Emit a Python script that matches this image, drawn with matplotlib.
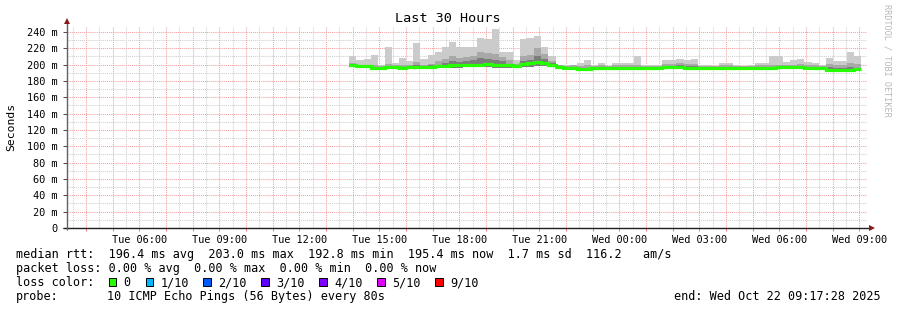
import matplotlib
matplotlib.use("Agg")
import numpy as np
import pandas as pd
import matplotlib.pyplot as plt
from matplotlib.patches import Rectangle
from matplotlib.ticker import FixedLocator, MultipleLocator, FuncFormatter

plt.rcParams['font.family'] = ['DejaVu Sans Mono']

# ---------------- data ----------------
title = "Last 30 Hours"
y_label = "Seconds"
range_start = "2025-10-21 03:17:28"
range_end = "2025-10-22 09:17:28"
first_bin = "2025-10-21 13:52:40"
bin_minutes = 16

# smoke top (max of 10 pings), ms
smoke_max = [210, 206, 207, 212, 200, 221, 202, 208, 204, 226,
             207, 212, 215, 221, 228, 221, 221, 222, 232, 231,
             244, 216, 216, 206, 231, 232, 235, 221, 211, 200,
             200, 200, 202, 206, 200, 202, 198, 202, 202, 202,
             211, 199, 199, 199, 206, 206, 207, 206, 207, 200,
             200, 198, 202, 202, 200, 198, 200, 202, 202, 210,
             210, 203, 206, 207, 203, 202, 199, 208, 205, 205,
             215, 211]
smoke_p90 = [202, 200, 200, 199, 198, 201, 199, 200, 199, 203,
             200, 201, 204, 207, 210, 208, 209, 211, 215, 214,
             213, 209, 206, 201, 210, 212, 220, 213, 205, 199,
             198, 199, 198, 199, 198, 199, 198, 199, 199, 199,
             200, 198, 198, 198, 201, 201, 202, 201, 201, 198,
             198, 198, 199, 199, 198, 198, 198, 199, 199, 200,
             200, 199, 200, 201, 200, 199, 198, 201, 200, 200,
             202, 201]
smoke_p75 = [200, 199, 199, 197, 197, 198, 198, 197, 198, 199,
             198, 199, 200, 202, 204, 203, 204, 206, 208, 207,
             206, 204, 201, 199, 204, 206, 210, 207, 202, 198,
             197, 197, 196, 196, 197, 197, 197, 197, 197, 197,
             197, 197, 197, 197, 198, 198, 199, 198, 198, 197,
             197, 197, 197, 197, 197, 197, 197, 197, 197, 197,
             198, 198, 198, 198, 197, 197, 197, 197, 196, 196,
             197, 196]
median = [199, 198, 198, 196, 196, 197, 197, 196, 197, 197,
          197, 197, 198, 198, 199, 199, 199, 200, 200, 201,
          200, 200, 199, 198, 201, 202, 203, 202, 200, 197,
          196, 196, 195, 195, 196, 196, 196, 196, 196, 196,
          196, 196, 196, 196, 197, 197, 197, 196, 196, 196,
          196, 196, 196, 196, 196, 196, 196, 196, 196, 196,
          197, 197, 197, 197, 196, 196, 196, 194, 194, 194,
          194, 195]
smoke_min = [197, 196, 196, 194, 194, 195, 195, 194, 195, 195,
             195, 195, 196, 196, 196, 196, 197, 197, 197, 197,
             196, 196, 196, 196, 197, 197, 198, 198, 197, 195,
             195, 194, 193, 193, 194, 195, 195, 195, 195, 195,
             195, 195, 195, 195, 195, 195, 195, 195, 195, 195,
             195, 195, 194, 195, 195, 195, 195, 195, 195, 195,
             195, 195, 195, 195, 195, 195, 195, 192, 192, 192,
             192, 193]

legend_lines = [
    "median rtt:  196.4 ms avg  203.0 ms max  192.8 ms min  195.4 ms now  1.7 ms sd  116.2   am/s",
    "packet loss: 0.00 % avg  0.00 % max  0.00 % min  0.00 % now",
]
loss_labels = ["0", "1/10", "2/10", "3/10", "4/10", "5/10", "9/10"]
loss_colors = ["#26ff00", "#00b8ff", "#0059ff", "#5e00ff", "#7e00ff", "#dd00ff", "#ff0000"]
probe_text = "10 ICMP Echo Pings (56 Bytes) every 80s"
end_text = "end: Wed Oct 22 09:17:28 2025"
watermark = "RRDTOOL / TOBI OETIKER"

# ---------------- figure ----------------
W, H = 897, 310
fig = plt.figure(figsize=(W / 100, H / 100), dpi=100)
fig.patch.set_facecolor("white")


def fx(p):
    return p / W


def fy(p):
    return 1 - p / H


ax = fig.add_axes([fx(67), fy(228), 800 / W, 202 / H])
ax.set_facecolor("white")

begin = pd.Timestamp(range_start)
end = pd.Timestamp(range_end)
hour = pd.Timedelta(hours=1)
bins = pd.date_range(first_bin, periods=len(median), freq=f"{bin_minutes}min")
edges = np.append((bins - begin) / hour,
                  (bins[-1] + pd.Timedelta(minutes=bin_minutes) - begin) / hour)

y_top = 247.3
ax.set_xlim(0, (end - begin) / hour)
ax.set_ylim(0, y_top)

ax.stairs(smoke_max, edges, baseline=smoke_min, fill=True, color="#cbcbcb", lw=0, zorder=3)
ax.stairs(smoke_p90, edges, baseline=smoke_min, fill=True, color="#a8a8a8", lw=0, zorder=4)
ax.stairs(smoke_p75, edges, baseline=smoke_min, fill=True, color="#7c7c7c", lw=0, zorder=5)
ax.stairs(median, edges, baseline=None, color=loss_colors[0], lw=2.3, zorder=6)

# grid / ticks
hour_marks = pd.date_range(begin.ceil("h"), end, freq="1h")
half_marks = pd.date_range(begin.ceil("30min"), end, freq="30min")
half_marks = [t for t in half_marks if t.minute == 30]
major_x = [(t - begin) / hour for t in hour_marks]
minor_x = [(t - begin) / hour for t in half_marks]
ax.xaxis.set_major_locator(FixedLocator(major_x))
ax.xaxis.set_minor_locator(FixedLocator(minor_x))
labels = [t.strftime("%a %H:%M") if t.hour % 3 == 0 else "" for t in hour_marks]
ax.set_xticklabels(labels)

ax.yaxis.set_major_locator(MultipleLocator(20))
ax.yaxis.set_minor_locator(MultipleLocator(10))
ax.yaxis.set_major_formatter(FuncFormatter(lambda v, p: "0" if v == 0 else f"{int(round(v))} m"))

ax.grid(which="minor", color="#cfcfcf", linestyle=(0, (1, 1)), linewidth=0.75, zorder=1)
ax.grid(which="major", color="#f4a0a0", linestyle=(0, (1, 1)), linewidth=0.75, zorder=2)
ax.set_axisbelow(True)

for s in ax.spines.values():
    s.set_visible(False)

ax.tick_params(axis="x", which="major", length=2.2, width=0.75, color="#f08080",
               labelsize=7.4, pad=2.5, labelcolor="#000000")
ax.tick_params(axis="x", which="minor", length=0)
ax.tick_params(axis="y", which="major", length=3, width=0.75, color="#505050",
               labelsize=7.4, pad=3.5, labelcolor="#000000")
ax.tick_params(axis="y", which="minor", length=0)

# axis lines and arrows
ax.plot([-4 / 800, 1 + 4 / 800], [0, 0], transform=ax.transAxes, color="#202020",
        lw=1.0, clip_on=False, zorder=8, solid_capstyle="butt")
ax.plot([0, 0], [-2 / 202, 1 + 3 / 202], transform=ax.transAxes, color="#606060",
        lw=1.0, clip_on=False, zorder=8, solid_capstyle="butt")
ax.plot([1 + 5 / 800], [0], transform=ax.transAxes, marker=">", markersize=4,
        color="#8b1a1a", clip_on=False, zorder=9, markeredgewidth=0)
ax.plot([0], [1 + 5 / 202], transform=ax.transAxes, marker="^", markersize=4,
        color="#8b1a1a", clip_on=False, zorder=9, markeredgewidth=0)

# titles
fig.text(fx(448), fy(19), title, ha="center", va="center", fontsize=9.7, color="#000000")
fig.text(fx(11), fy(127), y_label, ha="center", va="center", rotation=90, fontsize=8.2, color="#000000")
fig.text(fx(887), fy(4), watermark, ha="center", va="top", rotation=270, fontsize=6.1, color="#b8b8b8")

# legend
fs = 8.5
fig.text(fx(16), fy(258), legend_lines[0], fontsize=fs, va="baseline", ha="left")
fig.text(fx(16), fy(272), legend_lines[1], fontsize=fs, va="baseline", ha="left")
fig.text(fx(16), fy(286), "loss color:", fontsize=fs, va="baseline", ha="left")
sw_x = [108.5, 145.7, 203.3, 261.3, 319.3, 377.0, 435.0]
for i, (lab, col) in enumerate(zip(loss_labels, loss_colors)):
    x0 = sw_x[i]
    fig.patches.append(Rectangle((fx(x0), fy(286.3)), 7.5 / W, 8.3 / H, transform=fig.transFigure,
                                 facecolor=col, edgecolor="#000000", linewidth=0.7))
    fig.text(fx(x0 + 15), fy(286), lab, fontsize=fs, va="baseline", ha="left")
fig.text(fx(16), fy(300), "probe:", fontsize=fs, va="baseline", ha="left")
fig.text(fx(107.3), fy(300), probe_text, fontsize=fs, va="baseline", ha="left")
fig.text(fx(881), fy(300), end_text, fontsize=fs, va="baseline", ha="right")

fig.savefig("out.png", dpi=100, facecolor="white")
